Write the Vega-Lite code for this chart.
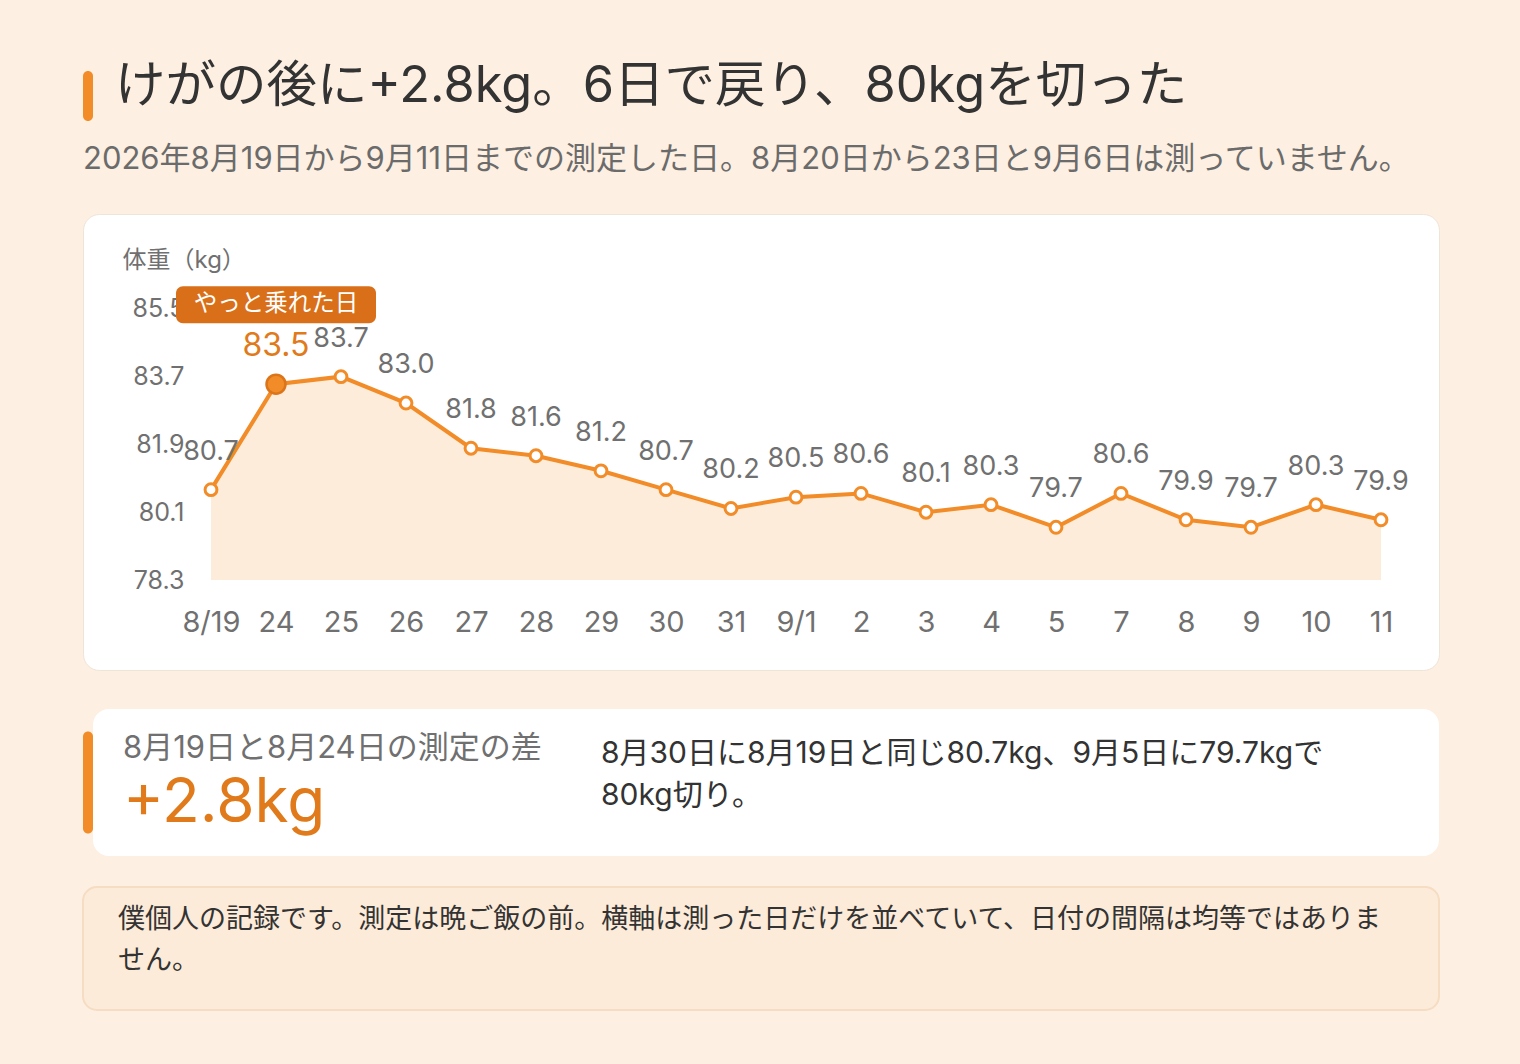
{
  "$schema": "https://vega.github.io/schema/vega-lite/v6.json",
  "background": "#fdf0e2",
  "padding": {"left": 82, "top": 61, "right": 82, "bottom": 59},
  "config": {
    "font": "Inter, Noto Sans CJK JP",
    "view": {"stroke": null},
    "axis": {"grid": false, "domain": false, "ticks": false},
    "title": {"fontWeight": "normal"}
  },
  "datasets": {
    "weights": [
      {"i": 0, "d": "8/19", "kg": 80.7},
      {"i": 1, "d": "24", "kg": 83.5, "note": "やっと乗れた日"},
      {"i": 2, "d": "25", "kg": 83.7},
      {"i": 3, "d": "26", "kg": 83.0},
      {"i": 4, "d": "27", "kg": 81.8},
      {"i": 5, "d": "28", "kg": 81.6},
      {"i": 6, "d": "29", "kg": 81.2},
      {"i": 7, "d": "30", "kg": 80.7},
      {"i": 8, "d": "31", "kg": 80.2},
      {"i": 9, "d": "9/1", "kg": 80.5},
      {"i": 10, "d": "2", "kg": 80.6},
      {"i": 11, "d": "3", "kg": 80.1},
      {"i": 12, "d": "4", "kg": 80.3},
      {"i": 13, "d": "5", "kg": 79.7},
      {"i": 14, "d": "7", "kg": 80.6},
      {"i": 15, "d": "8", "kg": 79.9},
      {"i": 16, "d": "9", "kg": 79.7},
      {"i": 17, "d": "10", "kg": 80.3},
      {"i": 18, "d": "11", "kg": 79.9}
    ],
    "grid": [
      {"kg": 78.3}, {"kg": 80.1}, {"kg": 81.9}, {"kg": 83.7}, {"kg": 85.5}
    ],
    "card": [{"diff": 2.8}]
  },
  "spacing": 30,
  "vconcat": [
    {
      "spacing": 38,
      "vconcat": [
        {
          "spacing": 22,
          "vconcat": [
            {
              "width": 10,
              "height": 50,
              "data": {"name": "card"},
              "mark": {"type": "rect", "color": "#f28c28", "cornerRadius": 5},
              "encoding": {},
              "title": {
                "text": "けがの後に+2.8kg。6日で戻り、80kgを切った",
                "anchor": "start",
                "frame": "group",
                "dx": 32,
                "offset": -41,
                "fontSize": 50.5,
                "color": "#333333"
              }
            },
            {
              "width": 1356,
              "height": 456,
              "view": {"fill": "#ffffff", "cornerRadius": 16, "stroke": "#efe4d8", "strokeWidth": 1},
              "title": {
                "text": "2026年8月19日から9月11日までの測定した日。8月20日から23日と9月6日は測っていません。",
                "anchor": "start",
                "frame": "group",
                "fontSize": 31,
                "color": "#6b6b6b",
                "offset": 38
              },
              "data": {"name": "weights"},
              "encoding": {
                "x": {
                  "field": "i",
                  "type": "quantitative",
                  "scale": {"domain": [-1.9692, 18.8923], "nice": false, "zero": false},
                  "axis": {
                    "title": null,
                    "values": [0, 1, 2, 3, 4, 5, 6, 7, 8, 9, 10, 11, 12, 13, 14, 15, 16, 17, 18],
                    "labelExpr": "['8/19','24','25','26','27','28','29','30','31','9/1','2','3','4','5','7','8','9','10','11'][datum.value]",
                    "labelOverlap": false,
                    "labelFlush": false,
                    "labelFontSize": 29,
                    "labelColor": "#707070",
                    "labelPadding": 2,
                    "offset": -64
                  }
                },
                "y": {
                  "field": "kg",
                  "type": "quantitative",
                  "scale": {"domain": [75.91, 88.02], "nice": false, "zero": false},
                  "axis": {
                    "values": [78.3, 80.1, 81.9, 83.7, 85.5],
                    "format": ".1f",
                    "labelFontSize": 25,
                    "labelColor": "#707070",
                    "labelPadding": 2,
                    "offset": -103,
                    "title": "体重（kg）",
                    "titleAngle": 0,
                    "titleAlign": "left",
                    "titleBaseline": "middle",
                    "titleX": -64,
                    "titleY": 46,
                    "titleFontSize": 24,
                    "titleFontWeight": "normal",
                    "titleColor": "#707070"
                  }
                }
              },
              "layer": [
                {
                  "mark": {"type": "area", "color": "#fdecd9", "opacity": 1},
                  "encoding": {"y2": {"datum": 78.3}}
                },
                {
                  "data": {"name": "grid"},
                  "mark": {"type": "rule", "color": "#ebe4dd", "strokeWidth": 2},
                  "encoding": {
                    "x": {"datum": -0.385},
                    "x2": {"datum": 18.31},
                    "y": {"field": "kg", "type": "quantitative"}
                  }
                },
                {
                  "mark": {"type": "line", "color": "#f28c28", "strokeWidth": 4}
                },
                {
                  "transform": [{"filter": "!datum.note"}],
                  "mark": {"type": "point", "filled": true, "fill": "#ffffff", "stroke": "#f28c28", "strokeWidth": 3, "size": 140, "opacity": 1}
                },
                {
                  "transform": [{"filter": "!datum.note"}],
                  "mark": {"type": "text", "dy": -38, "fontSize": 27, "color": "#707070"},
                  "encoding": {"text": {"field": "kg", "type": "quantitative", "format": ".1f"}}
                },
                {
                  "transform": [{"filter": "datum.note"}],
                  "mark": {"type": "point", "filled": true, "fill": "#f28c28", "stroke": "#dc7419", "strokeWidth": 2.5, "size": 360, "opacity": 1}
                },
                {
                  "transform": [{"filter": "datum.note"}],
                  "mark": {"type": "text", "dy": -38, "fontSize": 32, "color": "#e07a1a"},
                  "encoding": {"text": {"field": "kg", "type": "quantitative", "format": ".1f"}}
                },
                {
                  "transform": [{"filter": "datum.note"}],
                  "mark": {"type": "rect", "color": "#d97019", "cornerRadius": 7, "xOffset": -100, "x2Offset": 100, "yOffset": -98, "y2Offset": -61},
                  "encoding": {
                    "x2": {"field": "i"},
                    "y2": {"field": "kg"}
                  }
                },
                {
                  "transform": [{"filter": "datum.note"}],
                  "mark": {"type": "text", "dy": -80, "fontSize": 23.5, "color": "#ffffff"},
                  "encoding": {"text": {"field": "note"}}
                }
              ]
            }
          ]
        },
        {
          "spacing": 0,
          "center": true,
          "hconcat": [
            {
              "width": 10,
              "height": 102,
              "data": {"name": "card"},
              "mark": {"type": "rect", "color": "#f28c28", "cornerRadius": 5},
              "encoding": {}
            },
            {
              "width": 508,
              "height": 147,
              "data": {"name": "card"},
              "mark": {"type": "rect", "color": "#ffffff", "cornerRadiusTopLeft": 16, "cornerRadiusBottomLeft": 16},
              "encoding": {},
              "title": {
                "text": "8月19日と8月24日の測定の差",
                "subtitle": "+2.8kg",
                "anchor": "start",
                "frame": "group",
                "dx": 30,
                "offset": -126,
                "fontSize": 31,
                "color": "#707070",
                "subtitleFontSize": 62,
                "subtitleColor": "#e07a1a",
                "subtitlePadding": 8
              }
            },
            {
              "width": 838,
              "height": 147,
              "data": {"name": "card"},
              "mark": {"type": "rect", "color": "#ffffff", "cornerRadiusTopRight": 16, "cornerRadiusBottomRight": 16},
              "encoding": {},
              "title": {
                "text": ["8月30日に8月19日と同じ80.7kg、9月5日に79.7kgで", "80kg切り。"],
                "anchor": "start",
                "frame": "group",
                "offset": -102,
                "fontSize": 30,
                "lineHeight": 42,
                "color": "#333333"
              }
            }
          ]
        }
      ]
    },
    {
      "width": 1356,
      "height": 123,
      "data": {"name": "card"},
      "mark": {"type": "rect", "color": "#fdebd9", "stroke": "#f5dcc3", "strokeWidth": 2, "cornerRadius": 14},
      "encoding": {},
      "title": {
        "text": ["僕個人の記録です。測定は晩ご飯の前。横軸は測った日だけを並べていて、日付の間隔は均等ではありま", "せん。"],
        "anchor": "start",
        "frame": "group",
        "dx": 35,
        "offset": -89,
        "fontSize": 27,
        "lineHeight": 41,
        "color": "#333333"
      }
    }
  ]
}
